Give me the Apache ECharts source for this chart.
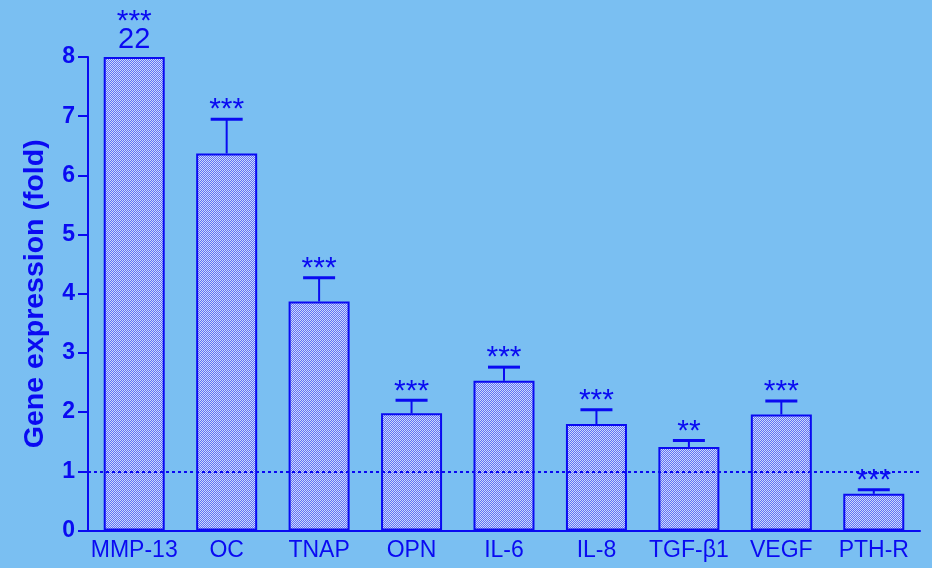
<!DOCTYPE html>
<html>
<head>
<meta charset="utf-8">
<script src="https://cdn.jsdelivr.net/npm/echarts@6/dist/echarts.min.js"></script>
<style>
html,body{margin:0;padding:0;background:#7abff2;}
#chart{width:932px;height:568px;}
</style>
</head>
<body>
<div id="chart"></div>
<script>
// ---- data ----
var categories = ['MMP-13', 'OC', 'TNAP', 'OPN', 'IL-6', 'IL-8', 'TGF-\u03b21', 'VEGF', 'PTH-R'];
var meanValues = [22, 6.37, 3.87, 1.98, 2.53, 1.80, 1.41, 1.96, 0.62];
var semValues  = [0, 0.58, 0.40, 0.22, 0.23, 0.24, 0.11, 0.23, 0.07];
var significance = ['***', '***', '***', '***', '***', '***', '**', '***', '***'];
var referenceLevel = 1;
var yTicks = [0, 1, 2, 3, 4, 5, 6, 7, 8];

// ---- style ----
var BLUE = '#0a0af2';
var FONT = '"Liberation Sans", Arial, sans-serif';
var yMax = yTicks[yTicks.length - 1];

var pc = document.createElement('canvas');
pc.width = 4; pc.height = 4;
var ctx = pc.getContext('2d');
ctx.fillStyle = '#cdd8fd';
ctx.fillRect(0, 0, 4, 4);
ctx.fillStyle = '#6072f4';
for (var i = 0; i < 4; i++) {
  ctx.fillRect(i, (3 - i) % 4, 1, 1);
  ctx.fillRect(i, (5 - i) % 4, 1, 1);
}

var barData = meanValues.map(function (v) { return Math.min(v, yMax); });
var errData = meanValues.map(function (v, i) { return [i, v, semValues[i]]; });

var chart = echarts.init(document.getElementById('chart'), null, {renderer: 'canvas'});
chart.setOption({
  backgroundColor: '#7abff2',
  animation: false,
  grid: {left: 88, right: 12, top: 57, bottom: 37.5, containLabel: false},
  xAxis: {
    type: 'category',
    data: categories,
    boundaryGap: true,
    axisLine: {lineStyle: {color: BLUE, width: 2}},
    axisTick: {show: false},
    axisLabel: {color: BLUE, fontSize: 23, fontFamily: FONT, margin: 9, interval: 0}
  },
  yAxis: {
    type: 'value',
    min: yTicks[0], max: yMax, interval: 1,
    name: 'Gene expression (fold)',
    nameLocation: 'middle',
    nameGap: 38,
    nameTextStyle: {color: BLUE, fontSize: 28.5, fontWeight: 'bold', fontFamily: FONT},
    axisLine: {show: true, lineStyle: {color: BLUE, width: 2}},
    axisTick: {show: true, inside: false, length: 10, lineStyle: {color: BLUE, width: 2}},
    axisLabel: {color: BLUE, fontSize: 23, fontWeight: 'bold', fontFamily: FONT, margin: 13},
    splitLine: {show: false}
  },
  series: [
    {
      type: 'line',
      data: [],
      z: 1,
      silent: true,
      markLine: {
        silent: true,
        symbol: 'none',
        label: {show: false},
        lineStyle: {color: BLUE, width: 2, type: [3, 3]},
        data: [{yAxis: referenceLevel}]
      }
    },
    {
      type: 'bar',
      z: 3,
      data: barData,
      barWidth: 61,
      itemStyle: {
        color: {image: pc, repeat: 'repeat'},
        borderColor: BLUE,
        borderWidth: 2
      }
    },
    {
      type: 'custom',
      z: 4,
      data: errData,
      renderItem: function (params, api) {
        var idx = api.value(0);
        var mean = api.value(1);
        var sem = api.value(2);
        var top = api.coord([idx, Math.min(mean, yMax)]);
        var errTop = api.coord([idx, Math.min(mean, yMax) + sem]);
        var children = [];
        var textY = errTop[1];
        if (sem > 0) {
          children.push({type: 'line', shape: {x1: top[0], y1: top[1], x2: errTop[0], y2: errTop[1]},
            style: {stroke: BLUE, lineWidth: 2}});
          children.push({type: 'line', shape: {x1: errTop[0] - 16, y1: errTop[1], x2: errTop[0] + 16, y2: errTop[1]},
            style: {stroke: BLUE, lineWidth: 3}});
        }
        if (mean > yMax) {
          children.push({type: 'text', style: {text: String(mean), x: top[0], y: top[1] - 3,
            align: 'center', verticalAlign: 'bottom', fill: BLUE, fontSize: 29, fontFamily: FONT}});
          textY = top[1] - 26;
        }
        children.push({type: 'text', style: {text: significance[params.dataIndex], x: errTop[0], y: textY + 6,
          align: 'center', verticalAlign: 'bottom', fill: BLUE, fontSize: 30, fontFamily: FONT}});
        return {type: 'group', children: children};
      }
    }
  ]
});
</script>
</body>
</html>
